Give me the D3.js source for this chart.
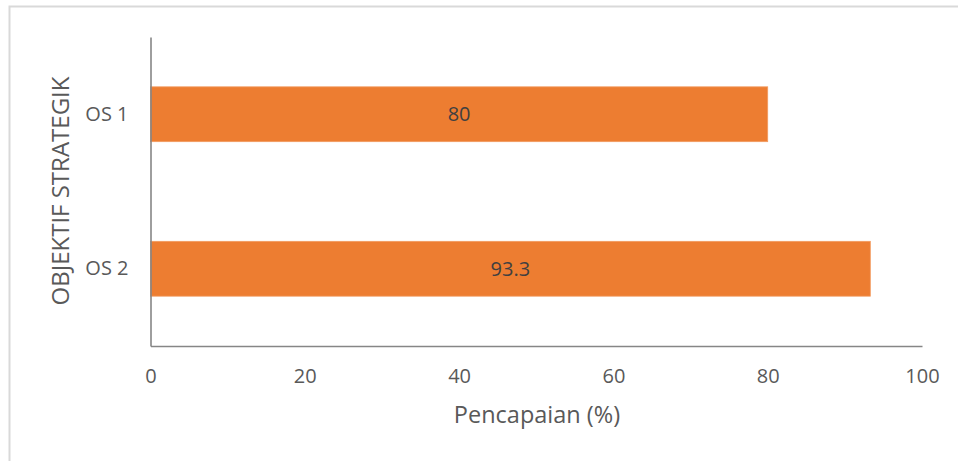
<!DOCTYPE html>
<html>
<head>
<meta charset="utf-8">
<script src="https://cdn.jsdelivr.net/npm/d3@7"></script>
<style>
  html, body { margin: 0; padding: 0; background: #fff; }
  svg { display: block; }
  text { font-family: "Open Sans", "Noto Sans", sans-serif; }
</style>
</head>
<body>
<svg id="chart" width="958" height="461"></svg>
<script>
// ---- data ----
const categories = ["OS 1", "OS 2"];
const values = [80, 93.3];
const xTicks = [0, 20, 40, 60, 80, 100];
const xTitle = "Pencapaian (%)";
const yTitle = "OBJEKTIF STRATEGIK";

// ---- layout ----
const W = 958, H = 461;
const plot = { left: 150.5, right: 922, top: 37, bottom: 346 };

const svg = d3.select("#chart");

// outer frame (top and left edges visible)
svg.append("path")
  .attr("d", `M9.5,${H} L9.5,6.5 L${W},6.5`)
  .attr("fill", "none")
  .attr("stroke", "#d9d9d9")
  .attr("stroke-width", 2);

const x = d3.scaleLinear().domain([0, 100]).range([plot.left, plot.right]);
const y = d3.scaleBand().domain(categories).range([plot.top, plot.bottom])
  .paddingInner(0.645).paddingOuter(0.3225);

// bars
svg.append("g").selectAll("rect")
  .data(categories.map((c, i) => ({ c, v: values[i] })))
  .join("rect")
  .attr("x", x(0))
  .attr("y", d => y(d.c))
  .attr("width", d => x(d.v) - x(0))
  .attr("height", y.bandwidth())
  .attr("fill", "#ED7D31")
  .attr("stroke", "#F29B60")
  .attr("stroke-width", 0.8);

// data labels
svg.append("g").selectAll("text")
  .data(categories.map((c, i) => ({ c, v: values[i] })))
  .join("text")
  .attr("x", d => (x(0) + x(d.v)) / 2)
  .attr("y", d => y(d.c) + y.bandwidth() / 2)
  .attr("dy", "0.36em")
  .attr("text-anchor", "middle")
  .attr("font-size", 20)
  .attr("fill", "#404040")
  .text(d => d.v);

// x axis
const xAxis = svg.append("g")
  .attr("transform", `translate(0,${plot.bottom})`)
  .call(d3.axisBottom(x).tickValues(xTicks).tickSize(0).tickPadding(23).tickFormat(d3.format("d")));
xAxis.select(".domain").attr("stroke", "#868686").attr("stroke-width", 1.6);
xAxis.selectAll("text")
  .attr("font-family", "Open Sans")
  .attr("font-size", 20)
  .attr("fill", "#595959");

// y axis
const yAxis = svg.append("g")
  .attr("transform", `translate(${plot.left},0)`)
  .call(d3.axisLeft(y).tickSize(0).tickPadding(22));
yAxis.select(".domain").attr("stroke", "#868686").attr("stroke-width", 1.6);
yAxis.selectAll("text")
  .attr("font-family", "Open Sans")
  .attr("font-size", 20)
  .attr("fill", "#595959");

// axis titles
svg.append("text")
  .attr("x", 537)
  .attr("y", 423)
  .attr("text-anchor", "middle")
  .attr("font-size", 23.5)
  .attr("fill", "#595959")
  .text(xTitle);

svg.append("text")
  .attr("transform", `translate(69,${191}) rotate(-90)`)
  .attr("text-anchor", "middle")
  .attr("font-size", 24)
  .attr("fill", "#595959")
  .text(yTitle);
</script>
</body>
</html>
